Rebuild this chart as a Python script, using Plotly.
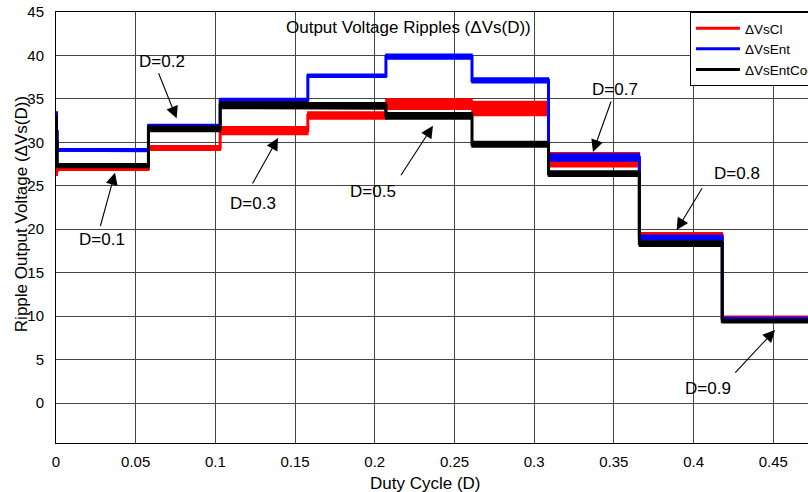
import plotly.graph_objects as go

# Segment edges along duty-cycle axis (first tiny segment = start-up transient)
D_edges = [0, 0.0008, 0.058, 0.103, 0.158, 0.207, 0.261, 0.309, 0.366, 0.418, 0.472]

# Ripple envelope (lower / upper) of each series for every segment
red_lo = [26.2, 26.8, 29.1, 30.9, 32.7, 33.8, 33.1, 27.2, 19.0, 9.6]
red_hi = [27.3, 27.2, 29.6, 31.8, 33.5, 35.0, 34.7, 28.8, 19.6, 10.0]
blue_lo = [29.0, 28.95, 31.75, 34.75, 37.5, 39.6, 36.85, 27.85, 18.75, 9.55]
blue_hi = [33.5, 29.25, 32.05, 35.05, 37.85, 40.15, 37.4, 28.65, 19.3, 9.85]
black_lo = [27.2, 27.1, 31.25, 33.9, 33.85, 32.7, 29.45, 26.1, 18.05, 9.25]
black_hi = [33.0, 27.55, 31.85, 34.65, 34.55, 33.4, 30.1, 26.7, 18.65, 9.6]

series_names = ["ΔVsCl", "ΔVsEnt", "ΔVsEntCoop"]
series_colors = ["#ff0000", "#0000ff", "#000000"]

# Annotations: label, text position, arrow tail, arrow tip (data coords)
ann_labels = ["D=0.1", "D=0.2", "D=0.3", "D=0.5", "D=0.7", "D=0.8", "D=0.9"]
ann_text_x = [0.0287, 0.0663, 0.1236, 0.1987, 0.3507, 0.4270, 0.4090]
ann_text_y = [18.84, 39.27, 23.0, 24.3, 36.1, 26.43, 1.73]
ann_tail_x = [0.0276, 0.0640, 0.1228, 0.2158, 0.3486, 0.4059, 0.4253]
ann_tail_y = [20.2, 38.12, 25.09, 26.04, 34.87, 24.89, 3.34]
ann_tip_x = [0.0370, 0.0757, 0.1393, 0.2365, 0.3369, 0.3894, 0.4511]
ann_tip_y = [26.5, 32.76, 30.5, 31.9, 28.9, 19.9, 8.4]

x_ticks = [0, 0.05, 0.1, 0.15, 0.2, 0.25, 0.3, 0.35, 0.4, 0.45]
x_tick_text = ["0", "0.05", "0.1", "0.15", "0.2", "0.25", "0.3", "0.35", "0.4", "0.45"]
y_ticks = [0, 5, 10, 15, 20, 25, 30, 35, 40, 45]

FONT = "Liberation Sans, Arial, sans-serif"

fig = go.Figure()


def band(edges, lo, hi):
    xs, ys = [], []
    for i in range(len(lo)):
        xs += [edges[i], edges[i + 1]]
        ys += [hi[i], hi[i]]
    for i in reversed(range(len(lo))):
        xs += [edges[i + 1], edges[i]]
        ys += [lo[i], lo[i]]
    xs.append(xs[0])
    ys.append(ys[0])
    return xs, ys


for name, color, lo, hi in zip(series_names, series_colors,
                               [red_lo, blue_lo, black_lo],
                               [red_hi, blue_hi, black_hi]):
    mids = [(a + b) / 2 for a, b in zip(lo, hi)]
    fig.add_trace(go.Scatter(
        x=D_edges, y=mids + [mids[-1]], mode="lines", line_shape="hv",
        line=dict(color=color, width=3), name=name, legendgroup=name,
    ))
    bx, by = band(D_edges, lo, hi)
    fig.add_trace(go.Scatter(
        x=bx, y=by, mode="lines", fill="toself", fillcolor=color,
        line=dict(color=color, width=1.5), showlegend=False,
        legendgroup=name, hoverinfo="skip",
    ))

annotations = []
for lab, tx, ty, ax, ay, px, py in zip(ann_labels, ann_text_x, ann_text_y,
                                       ann_tail_x, ann_tail_y, ann_tip_x, ann_tip_y):
    annotations.append(dict(x=px, y=py, ax=ax, ay=ay, xref="x", yref="y",
                            axref="x", ayref="y", text="", showarrow=True,
                            arrowhead=2, arrowsize=2.2, arrowwidth=1.1,
                            arrowcolor="black"))
    annotations.append(dict(x=tx, y=ty, xref="x", yref="y", text=lab,
                            xanchor="center", yanchor="middle",
                            showarrow=False, font=dict(size=17, color="black", family=FONT)))

annotations.append(dict(x=0.469, y=0.965, xref="paper", yref="paper",
                        xanchor="center", yanchor="middle",
                        text="Output Voltage Ripples (ΔVs(D))", showarrow=False,
                        font=dict(size=17, color="black", family=FONT)))
annotations.append(dict(x=0.4914, y=-0.093, xref="paper", yref="paper",
                        xanchor="center", yanchor="middle",
                        text="Duty Cycle (D)", showarrow=False,
                        font=dict(size=17, color="black", family=FONT)))
annotations.append(dict(x=-0.0465, y=0.531, xref="paper", yref="paper",
                        xanchor="center", yanchor="middle",
                        text="Ripple Output Voltage (ΔVs(D))", showarrow=False,
                        textangle=-90,
                        font=dict(size=17, color="black", family=FONT)))

fig.update_layout(
    width=808, height=492,
    margin=dict(l=56, r=0, t=12, b=49, autoexpand=False),
    paper_bgcolor="white", plot_bgcolor="white",
    font=dict(family=FONT, color="black"),
    annotations=annotations,
    legend=dict(x=0.843, y=1, xanchor="left", yanchor="top",
                bgcolor="white", bordercolor="black", borderwidth=1,
                font=dict(size=13.5, family=FONT, color="black"),
                itemwidth=44, tracegroupgap=0),
)
fig.update_xaxes(range=[0, 0.4718], tickvals=x_ticks, ticktext=x_tick_text,
                 showgrid=True, gridcolor="#444444", gridwidth=1,
                 showline=True, linecolor="black", linewidth=1, mirror=True,
                 zeroline=False, ticks="", ticklabelstandoff=5, automargin=False,
                 tickfont=dict(size=15, family=FONT, color="black"))
fig.update_yaxes(range=[-4.6, 45], tickvals=y_ticks,
                 showgrid=True, gridcolor="#444444", gridwidth=1,
                 showline=True, linecolor="black", linewidth=1, mirror=True,
                 zeroline=False, ticks="", ticklabelstandoff=8, automargin=False,
                 tickfont=dict(size=15, family=FONT, color="black"))

fig.write_html("out.html")
